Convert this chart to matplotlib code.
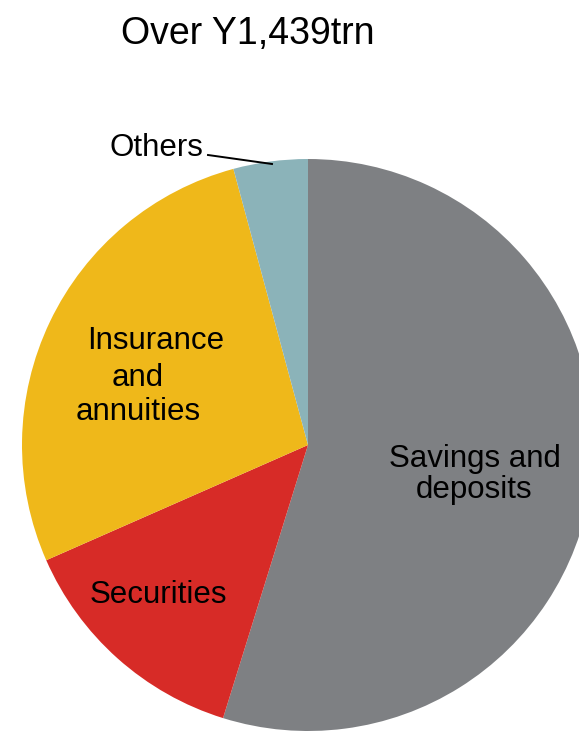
import matplotlib
matplotlib.use("Agg")
import matplotlib.pyplot as plt

plt.rcParams['font.family'] = ['Liberation Sans', 'DejaVu Sans']

# Household financial assets breakdown (% of total)
categories = ["Savings and deposits", "Securities", "Insurance and annuities", "Others"]
shares = [54.8, 13.6, 27.4, 4.2]
colors = ["#7e8083", "#d72b27", "#efb81a", "#8bb3b9"]
title = "Over Y1,439trn"

W, H = 579, 731
fig = plt.figure(figsize=(W / 100, H / 100), dpi=100)
ax = fig.add_axes([0, 0, 1, 1])

cx, cy, r = 308, H - 445, 286
ax.pie(shares, colors=colors, startangle=90, counterclock=False,
       center=(cx, cy), radius=r, wedgeprops=dict(linewidth=0))
ax.set_xlim(0, W)
ax.set_ylim(0, H)
ax.set_aspect('equal')
ax.axis('off')

fs = 22.5


def put(x, y, s, ha='center', size=fs):
    ax.text(x, H - y, s, ha=ha, va='baseline', fontsize=size, color='black')


put(248, 44, title, size=27)

# Savings and deposits
put(475, 467, "Savings and")
put(474, 498, "deposits")
# Insurance and annuities
put(156, 349, "Insurance")
put(138, 386, "and")
put(138, 420, "annuities")
# Securities
put(158, 603, "Securities")
# Others with leader line
put(203, 156, "Others", ha='right')
ax.plot([208, 272], [H - 155, H - 164], color='black', linewidth=1.4)

fig.savefig("out.png", dpi=100)
